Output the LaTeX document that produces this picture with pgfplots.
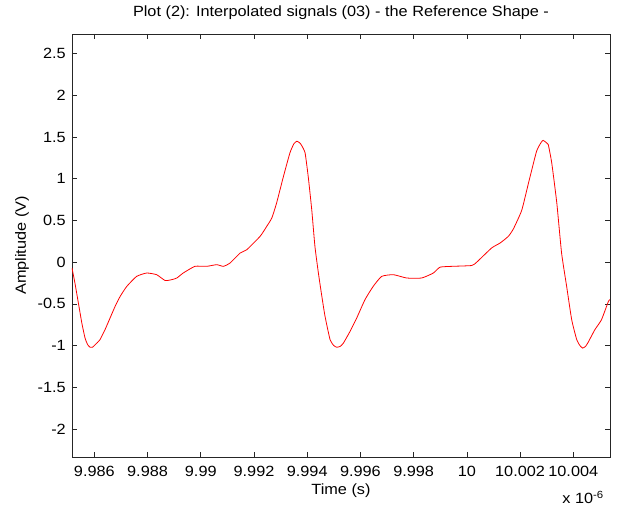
\documentclass[border=0pt]{standalone}
\usepackage{pgfplots}
\pgfplotsset{compat=1.18}
\usepackage{fontspec}
\setmainfont[FakeStretch=1.1]{Liberation Sans}
\newcommand{\lbl}{\fontsize{14.8pt}{17pt}\selectfont}
\begin{document}
\begin{tikzpicture}
\useasboundingbox (-72pt,-53pt) rectangle (548pt,457pt);
\begin{axis}[
  scale only axis,
  width=538pt, height=423pt,
  xmin=9.98516, xmax=10.00538,
  ymin=-2.336, ymax=2.736,
  axis line style={black!85, line width=0.6pt},
  tick style={black!85, line width=0.6pt},
  tick align=inside,
  major tick length=5pt,
  xtick={9.986,9.988,9.99,9.992,9.994,9.996,9.998,10,10.002,10.004},
  xticklabels={9.986,9.988,9.99,9.992,9.994,9.996,9.998,10,10.002,10.004},
  ytick={-2,-1.5,-1,-0.5,0,0.5,1,1.5,2,2.5},
  yticklabels={-2,-1.5,-1,-0.5,0,0.5,1,1.5,2,2.5},
  scaled x ticks=false,
  xticklabel style={font=\lbl, anchor=base, inner sep=0pt, yshift=-20pt},
  yticklabel style={font=\lbl, anchor=east, inner sep=0pt, xshift=-6pt},
  title={Plot (2): Interpolated signals (03) - the Reference Shape -},
  title style={font=\lbl, at={(axis description cs:0.5,1)}, anchor=base, yshift=11pt, inner sep=0pt},
  xlabel={Time (s)},
  xlabel style={font=\lbl, at={(axis description cs:0.5,0)}, anchor=base, yshift=-38pt, inner sep=0pt},
  ylabel={Amplitude (V)},
  ylabel style={font=\lbl, at={(axis description cs:-0.093,0.5)}, anchor=center, inner sep=0pt},
  clip=true,
]
\addplot[red, line width=0.8pt, smooth, tension=0.3] coordinates {
(9.98516,-0.07) (9.98527,-0.25) (9.98540,-0.49) (9.98553,-0.73) (9.98565,-0.91)
(9.98575,-0.99) (9.98584,-1.02) (9.98593,-1.02) (9.98603,-0.99) (9.98621,-0.93)
(9.98640,-0.81) (9.98659,-0.67) (9.98678,-0.53) (9.98697,-0.41) (9.98722,-0.29)
(9.98759,-0.17) (9.98797,-0.13) (9.98834,-0.15) (9.98866,-0.22) (9.98890,-0.21)
(9.98910,-0.19) (9.98934,-0.13) (9.98978,-0.05) (9.99022,-0.05) (9.99060,-0.03)
(9.99085,-0.05) (9.99110,-0.01) (9.99148,0.11) (9.99173,0.15) (9.99223,0.31)
(9.99248,0.43) (9.99267,0.53) (9.99285,0.71) (9.99310,1.02) (9.99335,1.31)
(9.99350,1.42) (9.99361,1.45) (9.99372,1.43) (9.99379,1.40) (9.99392,1.31)
(9.99404,1.02) (9.99417,0.63) (9.99429,0.19) (9.99442,-0.13) (9.99455,-0.41)
(9.99467,-0.65) (9.99486,-0.93) (9.99500,-1.00) (9.99511,-1.02) (9.99524,-1.01)
(9.99536,-0.97) (9.99561,-0.83) (9.99586,-0.67) (9.99617,-0.45) (9.99648,-0.29)
(9.99680,-0.17) (9.99724,-0.15) (9.99774,-0.19) (9.99830,-0.19) (9.99874,-0.13)
(9.99899,-0.06) (9.99943,-0.05) (10.00018,-0.04) (10.00037,0.00) (10.00093,0.17)
(10.00125,0.23) (10.00156,0.31) (10.00175,0.40) (10.00206,0.62) (10.00231,0.94)
(10.00262,1.33) (10.00280,1.44) (10.00287,1.46) (10.00300,1.43) (10.00306,1.41)
(10.00319,1.19) (10.00338,0.71) (10.00356,0.11) (10.00375,-0.29) (10.00394,-0.69)
(10.00413,-0.93) (10.00425,-1.00) (10.00435,-1.03) (10.00446,-1.01) (10.00456,-0.96)
(10.00481,-0.81) (10.00506,-0.69) (10.00532,-0.47) (10.00538,-0.45)
};
\end{axis}
\node[font=\lbl, anchor=base east, inner sep=0pt] at ([xshift=-6pt,yshift=-47pt]current axis.south east) {x 10\textsuperscript{-6}};
\end{tikzpicture}
\end{document}
